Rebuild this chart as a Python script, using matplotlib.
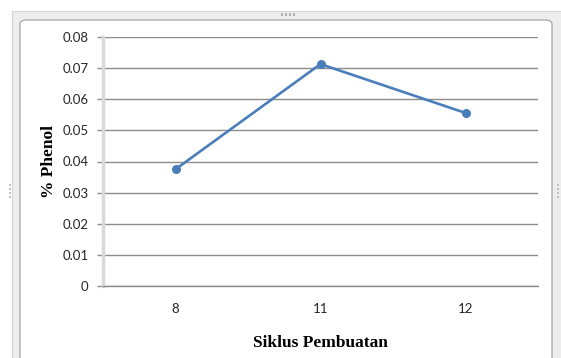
import matplotlib
matplotlib.use("Agg")
from matplotlib import pyplot as plt
from matplotlib.patches import Rectangle, FancyBboxPatch

# data
siklus = ["8", "11", "12"]
phenol = [0.0375, 0.0713, 0.0556]
y_ticks = [0, 0.01, 0.02, 0.03, 0.04, 0.05, 0.06, 0.07, 0.08]
y_labels = ["0", "0.01", "0.02", "0.03", "0.04", "0.05", "0.06", "0.07", "0.08"]

W, H = 561, 358
fig = plt.figure(figsize=(W / 100, H / 100), dpi=100, facecolor="white")


def fx(px):
    return px / W


def fy(py):
    return 1 - py / H


# excel-ish chart frame (drawn below the axes)
fig.patches.append(Rectangle((fx(12), fy(362)), fx(561) - fx(12) + 0.01, fy(11) - fy(362),
                             transform=fig.transFigure, facecolor="#ededed",
                             edgecolor="#d4d4d4", lw=0.8, zorder=-3))
fig.patches.append(FancyBboxPatch((fx(20), fy(362)), fx(552) - fx(20), fy(20) - fy(362),
                                  boxstyle="round,pad=0,rounding_size=0.012",
                                  transform=fig.transFigure, facecolor="white",
                                  edgecolor="#a6a6a6", lw=0.9, zorder=-2))
for dx in [281, 285, 289, 293]:
    fig.patches.append(Rectangle((fx(dx), fy(16)), fx(2), fy(13) - fy(16),
                                 transform=fig.transFigure, facecolor="#b0b0b0",
                                 edgecolor="none", zorder=-1))
for dy in [184, 188, 192, 196]:
    for xx in [9, 557]:
        fig.patches.append(Rectangle((fx(xx), fy(dy + 2)), fx(2), fy(dy) - fy(dy + 2),
                                     transform=fig.transFigure, facecolor="#c0c0c0",
                                     edgecolor="none", zorder=-1))

ax = fig.add_axes([fx(103), fy(286), fx(538) - fx(103), fy(37) - fy(286)])
ax.set_facecolor("none")
ax.set_zorder(2)

x = list(range(len(siklus)))
ax.plot(x, phenol, color="#4a7ebb", lw=1.9, marker="o", markersize=5.5,
        solid_capstyle="round", zorder=3)

ax.set_xlim(-0.5, len(siklus) - 0.5)
ax.set_ylim(0, 0.08)
ax.set_yticks(y_ticks)
ax.set_yticklabels(y_labels)
ax.set_xticks(x)
ax.set_xticklabels(siklus)

ax.grid(axis="y", color="#8c8c8c", lw=1.0, zorder=1)
ax.set_axisbelow(True)

for s in ["top", "right"]:
    ax.spines[s].set_visible(False)
ax.spines["left"].set_color("#d9d9d9")
ax.spines["left"].set_linewidth(2.5)
ax.spines["bottom"].set_color("#8c8c8c")
ax.spines["bottom"].set_linewidth(1.0)

ax.tick_params(axis="y", length=4.5, width=1.0, color="#8c8c8c", pad=6,
               labelsize=9.5, labelcolor="#262626")
ax.tick_params(axis="x", length=0, pad=12, labelsize=9.5, labelcolor="#262626")
for lab in ax.get_xticklabels() + ax.get_yticklabels():
    lab.set_fontfamily("Lato")

ax.set_ylabel("% Phenol", fontfamily="Liberation Serif", fontweight="bold",
              fontsize=12.5, labelpad=3.5)
ax.set_xlabel("Siklus Pembuatan", fontfamily="Liberation Serif", fontweight="bold",
              fontsize=12.5, labelpad=14.5)

fig.savefig("out.png", dpi=100, facecolor="white")
